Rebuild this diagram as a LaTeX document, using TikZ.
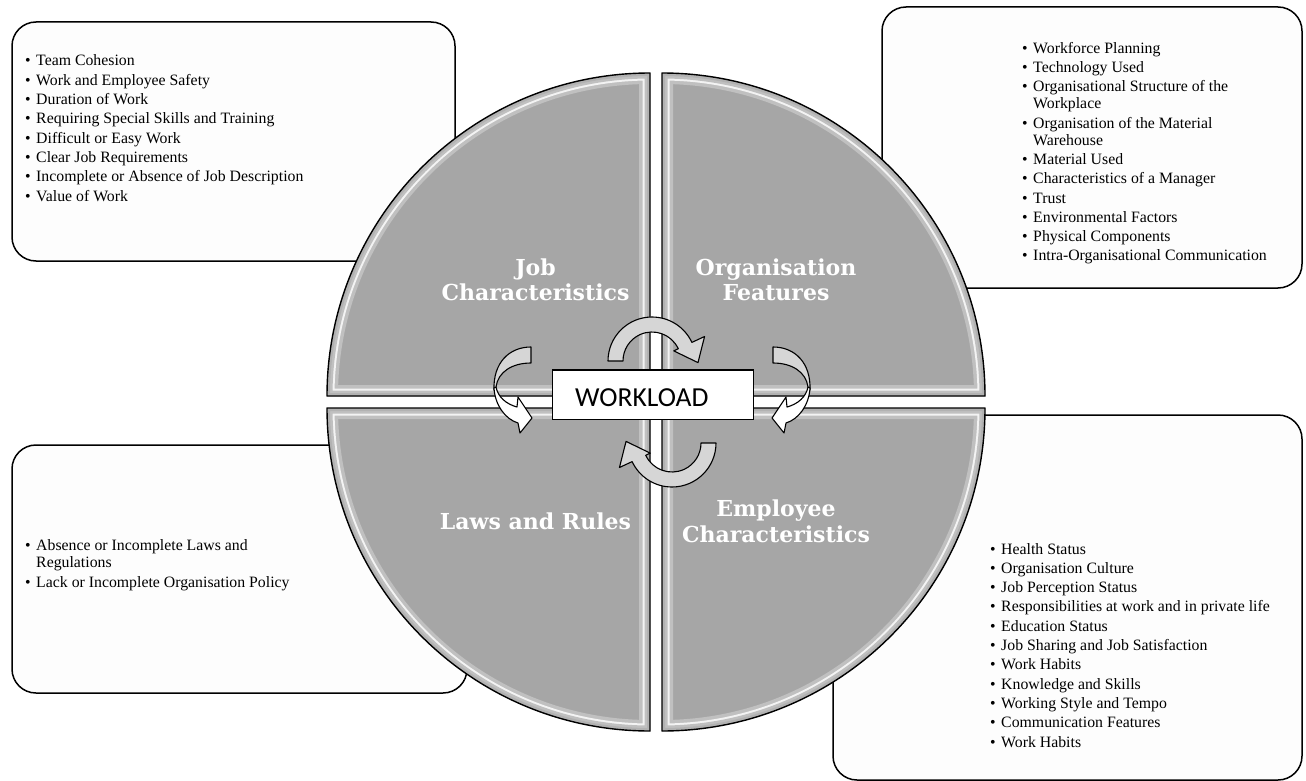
\documentclass[tikz,border=0pt]{standalone}
\usepackage{fontspec}
\setmainfont{Liberation Serif}
\newfontfamily\labfont{DejaVu Serif}
\newfontfamily\wlfont{Carlito}
\definecolor{qgray}{RGB}{166,166,166}
\definecolor{rimA}{RGB}{192,192,192}
\definecolor{rimB}{RGB}{178,178,178}
\definecolor{arrgray}{RGB}{214,214,214}
\definecolor{boxfill}{RGB}{253,253,253}
\tikzset{
  listbox/.style={draw=black, line width=1.5pt, fill=boxfill, rounded corners=24pt, inner sep=0pt},
  listtext/.style={anchor=base west, inner sep=0pt, font=\fontsize{15.8}{19.3}\selectfont},
  quadlabel/.style={anchor=base, inner sep=0pt, text=white, font={\labfont\bfseries\fontsize{22}{25}\selectfont}},
  qedge/.style={draw=black, line width=1.4pt, line join=round},
  arrowshape/.style={draw=black, line width=1.1pt, fill=arrgray, line join=round},
  ribbonwhite/.style={draw=black, line width=1.1pt, fill=white, line join=round},
  wlbox/.style={draw=black, line width=1.3pt, fill=white, inner sep=0pt},
  wltextstyle/.style={anchor=base west, inner sep=0pt, font={\wlfont\fontsize{27.5}{30}\selectfont}}
}
\newcommand\blist[1]{\begin{tabular}[t]{@{}l@{\hspace{5.5pt}}l@{}}#1\end{tabular}}
\newcommand\bi{\textbullet &}
\newcommand\qpart[3]{%
  \begin{scope}
    \clip (#1,#2) -- ++(#3:323) arc[start angle=#3, delta angle=90, radius=323] -- cycle;
    \fill[qgray] (#1,#2) -- ++(#3:323) arc[start angle=#3, delta angle=90, radius=323] -- cycle;
    \draw[line width=22pt, rimA] (#1,#2) -- ++(#3:323) arc[start angle=#3, delta angle=90, radius=323] -- cycle;
    \draw[line width=15pt, white!80!rimA] (#1,#2) -- ++(#3:323) arc[start angle=#3, delta angle=90, radius=323] -- cycle;
    \draw[line width=11pt, rimA] (#1,#2) -- ++(#3:323) arc[start angle=#3, delta angle=90, radius=323] -- cycle;
    \draw[line width=6pt, rimB] (#1,#2) -- ++(#3:323) arc[start angle=#3, delta angle=90, radius=323] -- cycle;
  \end{scope}
  \draw[qedge] (#1,#2) -- ++(#3:323) arc[start angle=#3, delta angle=90, radius=323] -- cycle;
}
\newcommand\toparrow{%
  \draw[arrowshape] (608,361) arc[start angle=180, end angle=335, radius=44]
    -- (704.57,336.49) -- (697.97,362.61) -- (673.75,350.86) -- (678.28,348.74)
    arc[start angle=335, end angle=180, radius=29] -- cycle;
}
\newcommand\sidearrow{%
  \draw[arrowshape] (531,347) .. controls (509,347) and (493,363) .. (494,390)
    -- (496,387) .. controls (498,372) and (512,363) .. (531,363) -- cycle;
  \draw[ribbonwhite] (494,388) .. controls (495,405) and (505,419) .. (518,423)
    -- (520,433) -- (532,418) -- (518,397) -- (517,407)
    .. controls (506,404) and (498,397) .. (496,387) -- cycle;
}
\begin{document}
\begin{tikzpicture}[x=1pt, y=1pt, yscale=-1]
\useasboundingbox (0,0) rectangle (1306,781);
\fill[white] (0,0) rectangle (1306,781);

% list boxes
\node[listbox, minimum width=443pt, minimum height=239pt] (tlbox) at (233.5,141.5) {};
\node[listbox, minimum width=420pt, minimum height=281pt] (trbox) at (1092,147.5) {};
\node[listbox, minimum width=455pt, minimum height=248pt] (blbox) at (239.5,569) {};
\node[listbox, minimum width=469pt, minimum height=365pt] (brbox) at (1067.5,597.5) {};

% quadrants
\qpart{650}{396}{180}
\qpart{662}{396}{270}
\qpart{662}{408}{0}
\qpart{650}{408}{90}

% quadrant labels
\node[quadlabel] (jc1) at (535.5,275) {Job};
\node[quadlabel] (jc2) at (535.5,300) {Characteristics};
\node[quadlabel] (of1) at (776,275) {Organisation};
\node[quadlabel] (of2) at (776,300) {Features};
\node[quadlabel] (lr) at (535.5,529) {Laws and Rules};
\node[quadlabel] (ec1) at (776,516) {Employee};
\node[quadlabel] (ec2) at (776,542) {Characteristics};

% cycle arrows
\toparrow
\begin{scope}[rotate around={180:(662,402)}]
  \toparrow
\end{scope}
\sidearrow
\begin{scope}[shift={(1304,0)}, xscale=-1]
  \sidearrow
\end{scope}

% workload box
\node[wlbox, minimum width=200.6pt, minimum height=49.3pt] (wl) at (653,394.7) {};
\node[wltextstyle] (wltext) at (575,406.7) {WORKLOAD};

% list texts
\node[listtext] (tltext) at (25,66) {\blist{%
\bi Team Cohesion\\
\bi Work and Employee Safety\\
\bi Duration of Work\\
\bi Requiring Special Skills and Training\\
\bi Difficult or Easy Work\\
\bi Clear Job Requirements\\
\bi Incomplete or Absence of Job Description\\
\bi Value of Work}};

\node[listtext] (trtext) at (1022,53.3) {\blist{%
\bi Workforce Planning\\
\bi Technology Used\\
\bi Organisational Structure of the\\[-2.3pt]
 & Workplace\\
\bi Organisation of the Material\\[-2.3pt]
 & Warehouse\\
\bi Material Used\\
\bi Characteristics of a Manager\\
\bi Trust\\
\bi Environmental Factors\\
\bi Physical Components\\
\bi Intra-Organisational Communication}};

\node[listtext] (bltext) at (25,550) {\blist{%
\bi Absence or Incomplete Laws and\\[-1.6pt]
 & Regulations\\
\bi Lack or Incomplete Organisation Policy}};

\node[listtext] (brtext) at (990,554) {\blist{%
\bi Health Status\\
\bi Organisation Culture\\
\bi Job Perception Status\\
\bi Responsibilities at work and in private life\\
\bi Education Status\\
\bi Job Sharing and Job Satisfaction\\
\bi Work Habits\\
\bi Knowledge and Skills\\
\bi Working Style and Tempo\\
\bi Communication Features\\
\bi Work Habits}};
\end{tikzpicture}
\end{document}
